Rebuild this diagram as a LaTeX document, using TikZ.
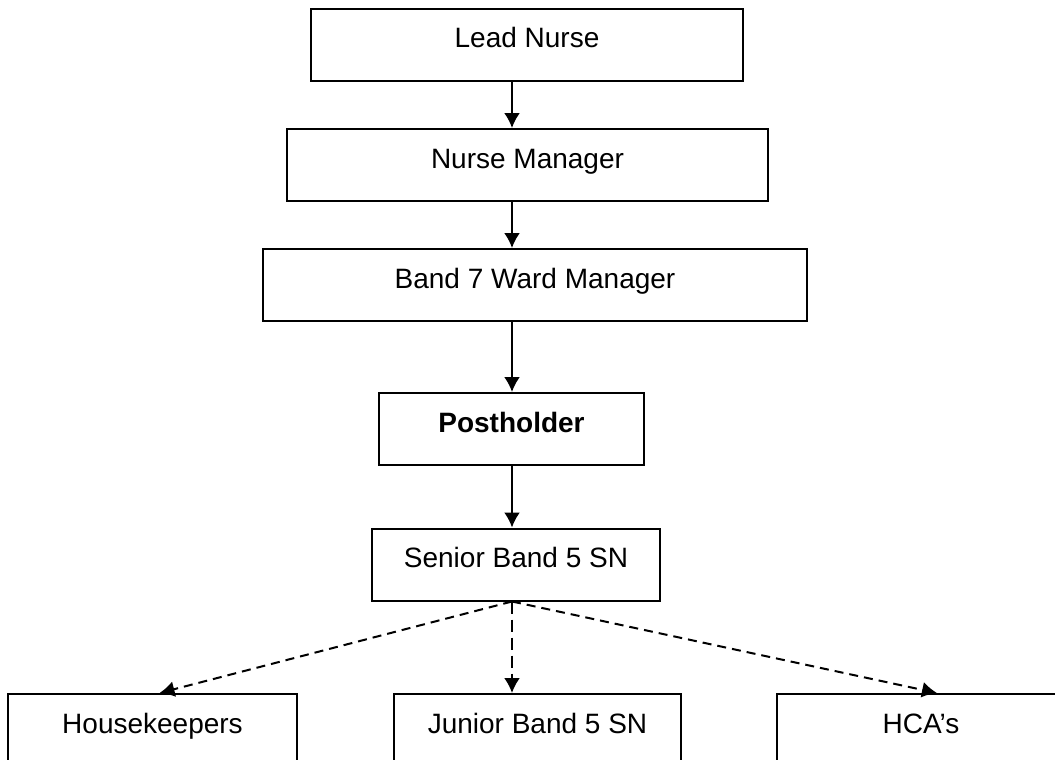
\documentclass[tikz,border=0pt]{standalone}
\usepackage{fontspec}
\setmainfont{Liberation Sans}
\usetikzlibrary{arrows.meta}
\tikzstyle{post}=[draw, line width=2pt, inner sep=0, minimum height=72pt, text height=39pt, text depth=33pt, font=\fontsize{28}{34}\selectfont]
\tikzstyle{line}=[line width=2pt, -{Latex[length=15pt, width=16pt]}]
\tikzstyle{dotline}=[line, dash pattern=on 9pt off 6pt]

\begin{document}
\begin{tikzpicture}[x=1pt, y=-1pt]

\useasboundingbox (0, 0) rectangle (1055, 760);
\clip (0, 0) rectangle (1055, 760);

\node [post, minimum width=432pt] (lead)   at (527,   45) {Lead Nurse};
\node [post, minimum width=481pt] (nmgr)   at (527.5, 165) {Nurse Manager};
\node [post, minimum width=544pt] (band)   at (535,  285) {Band 7 Ward Manager};
\node [post, minimum width=265pt] (post)   at (511.5, 429) {\bfseries Postholder};
\node [post, minimum width=288pt] (senior) at (516,  564.5) {Senior Band 5 SN};
\node [post, minimum width=289pt] (house)  at (152.5, 730) {Housekeepers};
\node [post, minimum width=287pt] (junior) at (537.5, 730) {Junior Band 5 SN};
\node [post, minimum width=288pt] (hca)    at (921,  730) {HCA’s};

\coordinate (axis) at (512, 0);

\draw [line] (lead.south -| axis)   -- (nmgr.north -| axis);
\draw [line] (nmgr.south -| axis)   -- (band.north -| axis);
\draw [line] (band.south -| axis)   -- (post.north -| axis);
\draw [line] (post.south -| axis)   -- (senior.north -| axis);

\draw [dotline] (senior.south -| axis) -- ([xshift=7pt]house.north);
\draw [line, dash pattern=on 12pt off 6pt] (senior.south -| axis) -- (junior.north -| axis);
\draw [dotline] (senior.south -| axis) -- ([xshift=16pt]hca.north);

\end{tikzpicture}
\end{document}
